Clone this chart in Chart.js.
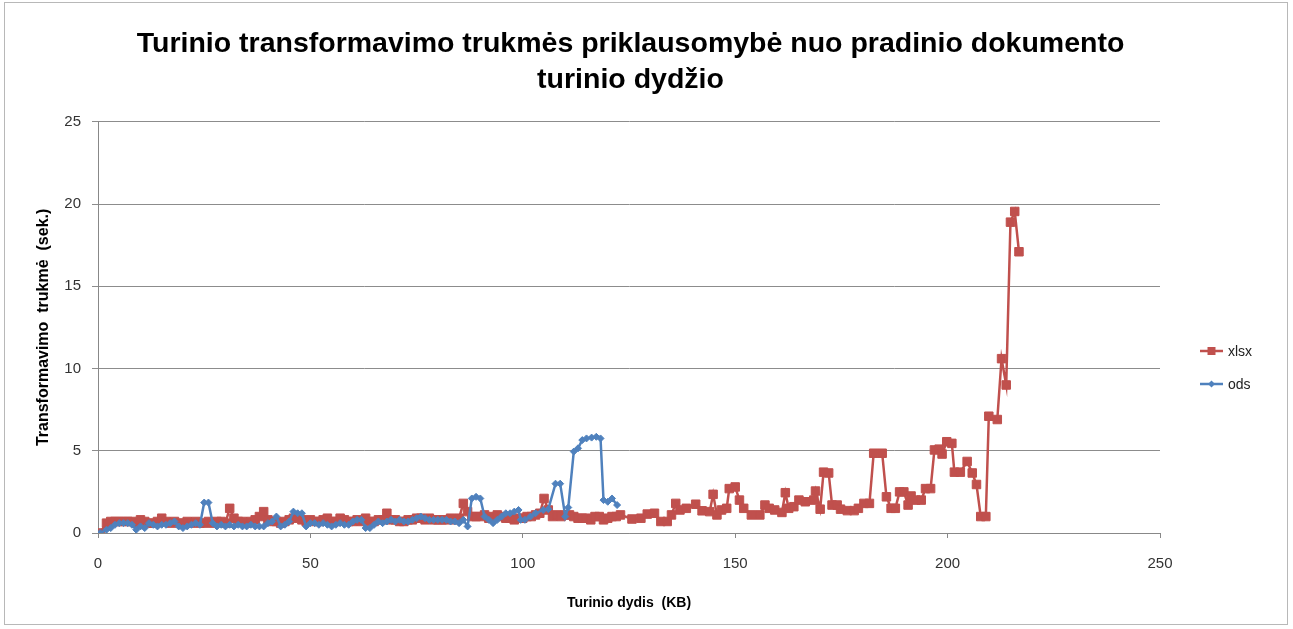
<!DOCTYPE html>
<html>
<head>
<meta charset="utf-8">
<script src="https://cdn.jsdelivr.net/npm/chart.js@4.4.1/dist/chart.umd.min.js"></script>
<style>
html,body{margin:0;padding:0;background:#fff;}
#wrap{position:relative;width:1293px;height:629px;}
#frame{position:absolute;left:4px;top:2px;width:1282px;height:621px;border:1px solid #b8b8b8;pointer-events:none;}
canvas{position:absolute;left:0;top:0;}
</style>
</head>
<body>
<div id="wrap"><canvas id="c" width="1293" height="629"></canvas><div id="frame"></div></div>
<script>
const titleLines = ["Turinio transformavimo trukmės priklausomybė nuo pradinio dokumento", "turinio dydžio"];
const xAxisTitle = "Turinio dydis  (KB)";
const yAxisTitle = "Transformavimo  trukmė  (sek.)";
const seriesNames = ["xlsx", "ods"];
const xTicks = [0, 50, 100, 150, 200, 250];
const yTicks = [0, 5, 10, 15, 20, 25];

const xlsxX = [0.5,2,3,4,5,6,7,8,9,10,11,12,13,14,15,16,17,18,19,20,21,22,23,24,25,26,27,28,29,30,31,32,33,34,35,36,37,38,39,40,41,42,43,44,45,46,47,48,49,50,51,52,53,54,55,56,57,58,59,60,61,62,63,64,65,66,67,68,69,70,71,72,73,74,75,76,77,78,79,80,81,82,83,84,85,86,87,88,89,90,91,92,93,94,95,96,97,98,99,100,101,102,103,104,105,106,107,108,109,110,111,112,113,114,115,116,117,118,119,120,121,122,123,125.7,127.8,129.3,131,132.5,134,135,136,137,138.5,140.7,142.2,144,144.8,145.7,146.8,148,148.6,150,151,152,153.8,155.8,157,158,159.3,161,161.8,162.6,163.8,165,166.5,168.5,168.9,170,170.8,172,172.8,174,174.8,176.4,178,179,180.3,181.6,182.6,184.6,185.6,186.7,187.7,188.7,189.7,190.7,191.4,192.5,193.8,194.8,196,196.9,198,198.7,199.8,201,201.6,203,204.6,205.8,206.8,207.8,209,209.7,211.7,212.7,213.8,214.8,215.8,216.8];
const xlsxY = [0,0.6,0.7,0.7,0.7,0.7,0.7,0.7,0.6,0.8,0.7,0.6,0.6,0.7,0.9,0.7,0.6,0.7,0.6,0.6,0.7,0.6,0.7,0.6,0.6,0.7,0.6,0.7,0.7,0.6,1.5,0.9,0.7,0.7,0.6,0.7,0.8,1.0,1.3,0.8,0.7,0.7,0.6,0.7,0.8,0.9,1.0,0.8,0.7,0.8,0.7,0.7,0.8,0.9,0.7,0.7,0.9,0.8,0.7,0.7,0.8,0.7,0.9,0.7,0.7,0.8,0.8,1.2,0.8,0.8,0.7,0.7,0.8,0.8,0.9,0.9,0.8,0.9,0.8,0.8,0.8,0.8,0.9,0.8,0.9,1.8,1.3,1.0,1.0,1.0,1.1,0.9,1.0,1.1,1.0,0.9,0.9,0.8,0.9,0.9,1.0,1.0,1.1,1.2,2.1,1.4,1.0,1.1,1.0,1.1,1.1,1.0,0.9,0.9,0.9,0.8,1.0,1.0,0.8,0.9,1.0,1.0,1.1,0.85,0.9,1.15,1.2,0.7,0.7,1.1,1.8,1.4,1.5,1.75,1.35,1.3,2.35,1.1,1.4,1.5,2.7,2.8,2.0,1.5,1.1,1.1,1.7,1.5,1.4,1.25,2.45,1.5,1.6,2.0,1.9,2.0,2.55,1.45,3.7,3.65,1.7,1.7,1.45,1.36,1.36,1.5,1.8,1.8,4.85,4.85,2.2,1.5,1.5,2.5,2.5,1.7,2.25,2.0,2.0,2.7,2.7,5.05,5.1,4.8,5.55,5.45,3.7,3.7,4.35,3.65,2.95,1.0,1.0,7.1,6.9,10.6,9.0,18.9,19.55,17.1];

const odsX = [0.5,2,3,4,5,6,7,8,9,10,11,12,13,14,15,16,17,18,19,20,21,22,23,24,25,26,27,28,29,30,31,32,33,34,35,36,37,38,39,40,41,42,43,44,45,46,47,48,49,50,51,52,53,54,55,56,57,58,59,60,61,62,63,64,65,66,67,68,69,70,71,72,73,74,75,76,77,78,79,80,81,82,83,84,85,86,87,88,89,90,91,92,93,94,95,96,97,98,99,99.5,100.5,101.8,103,104.8,106,107.7,108.8,110,110.7,112,113,114,115,116.2,117.3,118.3,119,120,121,122.2];
const odsY = [0,0.2,0.3,0.5,0.6,0.6,0.6,0.5,0.2,0.4,0.3,0.6,0.5,0.4,0.5,0.5,0.6,0.7,0.4,0.3,0.4,0.5,0.6,0.5,1.85,1.85,0.6,0.4,0.5,0.4,0.5,0.4,0.5,0.4,0.4,0.5,0.4,0.4,0.4,0.6,0.7,1.0,0.4,0.5,0.7,1.3,1.2,1.2,0.4,0.6,0.6,0.5,0.6,0.5,0.4,0.5,0.6,0.5,0.5,0.7,0.8,0.8,0.3,0.3,0.5,0.7,0.6,0.7,0.8,0.7,0.8,0.7,0.7,0.8,0.9,1.0,0.9,0.8,0.8,0.8,0.8,0.8,0.7,0.7,0.6,0.8,0.4,2.1,2.2,2.1,1.0,0.8,0.6,0.8,1.0,1.2,1.2,1.3,1.4,0.8,0.8,1.0,1.2,1.4,1.45,3.0,3.0,1.0,1.55,4.95,5.15,5.65,5.75,5.8,5.85,5.75,2.0,1.9,2.1,1.7];

const RED = '#C0504D', BLUE = '#4F81BD';
const FONT = '"Liberation Sans", Arial, sans-serif';
const toPts = (xs, ys) => xs.map((x, i) => ({x: x, y: ys[i]}));

const legendPlugin = {
  id: 'sideLegend',
  afterDraw(chart) {
    const ctx = chart.ctx;
    const items = [
      {name: seriesNames[0], color: RED, style: 'rect', y: 351},
      {name: seriesNames[1], color: BLUE, style: 'rectRot', y: 384}
    ];
    ctx.save();
    items.forEach(it => {
      ctx.strokeStyle = it.color; ctx.lineWidth = 2.5;
      ctx.beginPath(); ctx.moveTo(1200, it.y); ctx.lineTo(1223, it.y); ctx.stroke();
      ctx.fillStyle = it.color;
      ctx.beginPath();
      if (it.style === 'rect') { ctx.rect(1211.5 - 4, it.y - 4, 8, 8); }
      else { ctx.moveTo(1211.5, it.y - 3.5); ctx.lineTo(1215, it.y); ctx.lineTo(1211.5, it.y + 3.5); ctx.lineTo(1208, it.y); ctx.closePath(); }
      ctx.fill();
      ctx.fillStyle = '#222';
      ctx.font = '14px ' + FONT;
      ctx.textBaseline = 'middle';
      ctx.fillText(it.name, 1228, it.y + 1);
    });
    ctx.restore();
  }
};

new Chart(document.getElementById('c'), {
  type: 'scatter',
  data: {
    datasets: [
      {label: seriesNames[1], data: toPts(odsX, odsY), showLine: true, borderColor: BLUE, backgroundColor: BLUE,
       borderWidth: 2.5, pointStyle: 'rectRot', pointRadius: 3.5, pointBorderWidth: 1, tension: 0},
      {label: seriesNames[0], data: toPts(xlsxX, xlsxY), showLine: true, borderColor: RED, backgroundColor: RED,
       borderWidth: 2.5, pointStyle: 'rect', pointRadius: 6, pointBorderWidth: 1, tension: 0}
    ]
  },
  options: {
    responsive: false,
    animation: false,
    events: [],
    layout: {padding: {left: 4, right: 36, top: 4, bottom: 4}},
    plugins: {
      legend: {display: false},
      tooltip: {enabled: false},
      title: {
        display: true, text: titleLines, color: '#000',
        font: {family: FONT, size: 28.5, weight: 'bold', lineHeight: 1.26},
        padding: {top: 22, bottom: 24}
      }
    },
    scales: {
      x: {
        type: 'linear', min: 0, max: 250,
        afterBuildTicks: s => { s.ticks = xTicks.map(v => ({value: v})); },
        afterFit: s => { s.height = 92; },
        ticks: {color: '#333', font: {family: FONT, size: 15}, padding: 17},
        grid: {drawOnChartArea: false, drawTicks: true, tickLength: 5, color: '#888'},
        border: {color: '#888', width: 1},
        title: {display: true, text: xAxisTitle, color: '#000',
          font: {family: FONT, size: 14, weight: 'bold'}, padding: {top: 13, bottom: 13}}
      },
      y: {
        type: 'linear', min: 0, max: 25,
        afterBuildTicks: s => { s.ticks = yTicks.map(v => ({value: v})); },
        afterFit: s => { s.width = 94; },
        ticks: {color: '#333', font: {family: FONT, size: 15}, padding: 11},
        grid: {drawOnChartArea: true, drawTicks: true, tickLength: 6, color: '#8c8c8c'},
        border: {color: '#888', width: 1},
        title: {display: true, text: yAxisTitle, color: '#000',
          font: {family: FONT, size: 16, weight: 'bold'}, padding: {top: 30, bottom: 0}}
      },
      yR: {
        type: 'linear', position: 'right', display: true,
        afterFit: s => { s.width = 97; },
        ticks: {display: false},
        grid: {display: false, drawTicks: false},
        border: {display: false},
        title: {display: false}
      }
    }
  },
  plugins: [legendPlugin]
});
</script>
</body>
</html>
